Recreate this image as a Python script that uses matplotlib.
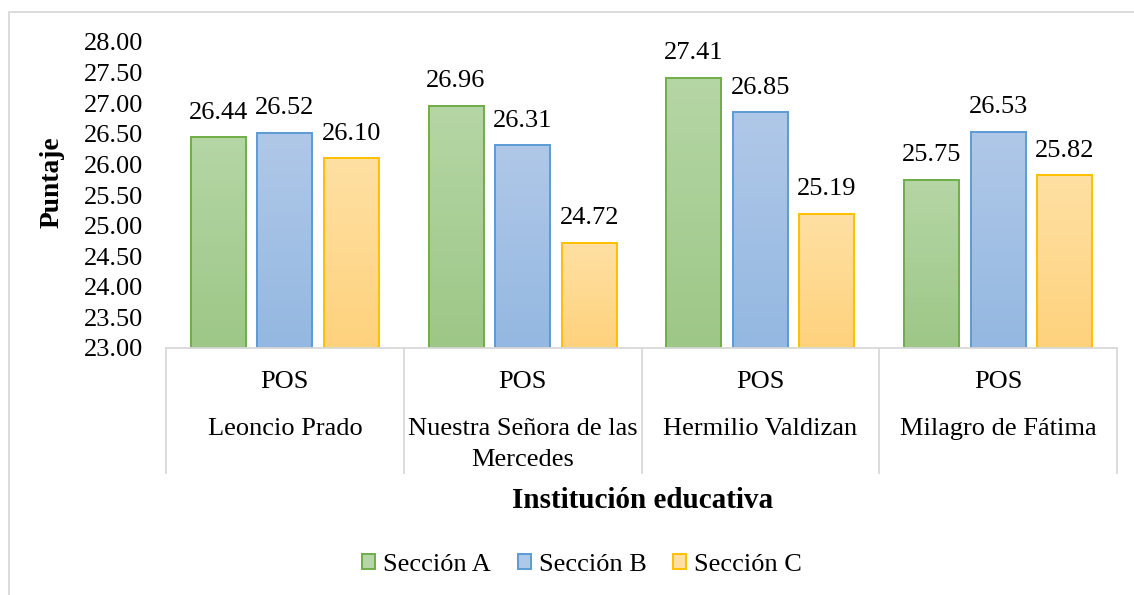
import numpy as np
import matplotlib.pyplot as plt
from matplotlib.colors import to_rgb
from matplotlib.patches import Rectangle, Patch
from matplotlib.lines import Line2D

plt.rcParams['font.family'] = ['Liberation Serif', 'DejaVu Serif']

# Puntaje promedio por institución y sección
schools = ["Leoncio Prado", "Nuestra Señora de las\nMercedes", "Hermilio Valdizan", "Milagro de Fátima"]
level = "POS"
sections = ["Sección A", "Sección B", "Sección C"]
seccion_a = [26.44, 26.96, 27.41, 25.75]
seccion_b = [26.52, 26.31, 26.85, 26.53]
seccion_c = [26.10, 24.72, 25.19, 25.82]
yticks = [23.0, 23.5, 24.0, 24.5, 25.0, 25.5, 26.0, 26.5, 27.0, 27.5, 28.0]

# (top colour, bottom colour, edge colour) for the gradient fills
styles = [("#b5d6a5", "#9dc787", "#70ad47"),
          ("#b0c8e8", "#94b8e1", "#5b9bd5"),
          ("#ffe0a3", "#fed27d", "#ffc000")]

W, H = 1134, 595
fig = plt.figure(figsize=(W / 100, H / 100), dpi=100)
ax = fig.add_axes([166 / W, 1 - 348 / H, (1117 - 166) / W, (348 - 42) / H])

# outer chart border
fig.patches.append(Rectangle((9 / W, -0.1), 1.2, 1.1 - 12 / H, transform=fig.transFigure,
                             fill=False, edgecolor="#d9d9d9", linewidth=1.3))

ymin, ymax = yticks[0], yticks[-1]
x = np.arange(len(schools))
bw = 0.231
step = 0.28
series = [seccion_a, seccion_b, seccion_c]

for i, (vals, (ctop, cbot, cedge)) in enumerate(zip(series, styles)):
    pos = x + (i - 1) * step
    grad = np.linspace(0, 1, 64)[:, None, None]
    img = (1 - grad) * np.array(to_rgb(ctop)) + grad * np.array(to_rgb(cbot))
    for xp, v in zip(pos, vals):
        ax.imshow(img, extent=[xp - bw / 2, xp + bw / 2, ymin, v], aspect="auto",
                  interpolation="bilinear", origin="upper", zorder=1)
        ax.annotate(f"{v:.2f}", (xp, v), xytext=(0, 13.5), textcoords="offset points",
                    ha="center", va="baseline", fontsize=19)
    ax.bar(pos, [v - ymin for v in vals], bw, bottom=ymin, facecolor="none",
           edgecolor=cedge, linewidth=1.4, zorder=2)

ax.set_xlim(-0.5, len(schools) - 0.5)
ax.set_ylim(ymin, ymax)
ax.set_yticks(yticks)
ax.set_yticklabels([f"{t:.2f}" for t in yticks])
ax.tick_params(axis="y", length=0, pad=16.5, labelsize=19)
ax.set_xticks([])
for s in ["top", "right", "left"]:
    ax.spines[s].set_visible(False)
ax.spines["bottom"].set_color("#d9d9d9")
ax.spines["bottom"].set_linewidth(1.3)
ax.spines["bottom"].set_zorder(3)

# multi-level category axis
tr = ax.get_xaxis_transform()
ax_h = 348 - 42
for b in np.arange(len(schools) + 1) - 0.5:
    ax.add_line(Line2D([b, b], [0, -(473 - 348) / ax_h], transform=tr, color="#d9d9d9",
                       linewidth=1.3, clip_on=False))
for xi, name in zip(x, schools):
    ax.text(xi, -(388 - 348) / ax_h, level, transform=tr, ha="center", va="baseline", fontsize=19)
    for k, line in enumerate(name.split("\n")):
        ax.text(xi, -(435 + 31 * k - 348) / ax_h, line, transform=tr, ha="center",
                va="baseline", fontsize=19)

fig.text(643 / W, 1 - 500 / H, "Institución educativa", ha="center", va="center",
         fontsize=21, fontweight="bold")
fig.text(52 / W, 1 - 182 / H, "Puntaje", ha="center", va="center", rotation=90,
         fontsize=19.8, fontweight="bold")

handles = [Patch(facecolor=ct, edgecolor=ce, linewidth=1.4) for ct, cb, ce in styles]
fig.legend(handles, sections, loc="center", bbox_to_anchor=(582 / W, 1 - 565 / H), ncol=3,
           frameon=False, fontsize=19, handlelength=0.5, handleheight=0.5,
           handletextpad=0.3, columnspacing=1.0)

fig.savefig("out.png", dpi=100)
